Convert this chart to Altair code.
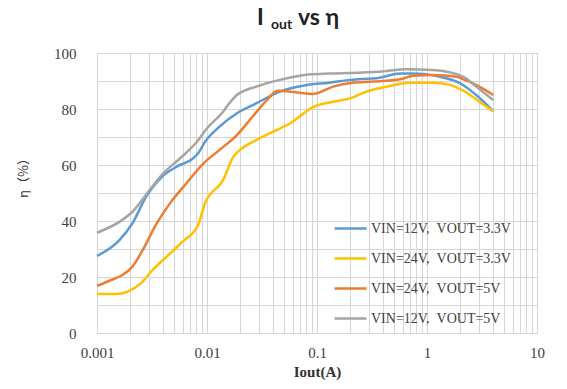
import altair as alt
import pandas as pd

series_names = ["VIN=12V,\u2002VOUT=3.3V", "VIN=24V,\u2002VOUT=3.3V", "VIN=24V,\u2002VOUT=5V", "VIN=12V,\u2002VOUT=5V"]
series_colors = ["#5B9BD5", "#FFC000", "#ED7D31", "#A5A5A5"]

blue_i = [0.001, 0.0016, 0.0021, 0.0028, 0.0039, 0.0053, 0.0075, 0.0083, 0.0096, 0.013, 0.0187, 0.028,
          0.046, 0.081, 0.13, 0.2, 0.37, 0.57, 0.75, 1.31, 2.0, 2.8, 4.0]
blue_eta = [27.5, 33.2, 39.2, 48.7, 55.8, 59.4, 62.4, 64.2, 68.3, 73.7, 78.5, 82.0,
            86.2, 88.6, 89.4, 90.4, 91.2, 92.7, 92.7, 91.5, 89.2, 85.0, 79.2]

yellow_i = [0.001, 0.0015, 0.0019, 0.0025, 0.0032, 0.0043, 0.006, 0.0083, 0.0096, 0.014, 0.0174, 0.02,
            0.028, 0.04, 0.057, 0.093, 0.14, 0.2, 0.28, 0.43, 0.7, 1.14, 1.6, 2.3, 3.0, 4.0]
yellow_eta = [13.9, 13.9, 14.8, 17.7, 22.5, 27.3, 32.6, 38.6, 46.3, 54.6, 63.0, 65.4,
              68.9, 71.9, 74.9, 80.8, 82.6, 83.8, 86.2, 88.0, 89.4, 89.4, 88.6, 85.8, 82.6, 79.2]

orange_i = [0.001, 0.0014, 0.0017, 0.0021, 0.0026, 0.0035, 0.0046, 0.0065, 0.0093, 0.013, 0.0187, 0.026,
            0.035, 0.044, 0.057, 0.093, 0.14, 0.21, 0.32, 0.57, 0.75, 1.14, 1.86, 2.15, 2.8, 4.0]
orange_eta = [16.8, 19.2, 20.7, 23.7, 29.6, 39.2, 46.3, 53.5, 60.6, 65.4, 70.7, 77.3,
              83.2, 86.5, 86.2, 85.4, 88.0, 89.4, 89.8, 90.6, 91.9, 92.1, 91.5, 90.6, 88.6, 85.0]

gray_i = [0.001, 0.0017, 0.0021, 0.003, 0.004, 0.0057, 0.0081, 0.01, 0.014, 0.0155, 0.0187, 0.028,
          0.046, 0.087, 0.13, 0.37, 0.65, 1.13, 2.15, 2.8, 4.0]
gray_eta = [35.8, 40.4, 43.3, 51.0, 57.0, 62.4, 68.3, 73.1, 79.0, 81.4, 85.0, 88.0,
            90.4, 92.4, 92.7, 93.3, 94.2, 93.9, 91.5, 88.0, 83.2]

x_tick_values = [0.001, 0.01, 0.1, 1, 10]
x_tick_labels = ["0.001", "0.01", "0.1", "1", "10"]
y_label_values = [0, 20, 40, 60, 80, 100]

rows = []
for k, (xs, ys) in enumerate([(blue_i, blue_eta), (yellow_i, yellow_eta),
                               (orange_i, orange_eta), (gray_i, gray_eta)]):
    for xv, yv in zip(xs, ys):
        rows.append({"I": xv, "eta": yv, "series": series_names[k], "order": k})
df = pd.DataFrame(rows)

x_grid = []
for e in range(-3, 1):
    for m in range(1, 10):
        x_grid.append(round(m * 10 ** e, 6))
x_grid.append(10)

label_expr = (f"indexof({x_tick_values}, datum.value) >= 0 ? "
              f"{x_tick_labels}[indexof({x_tick_values}, datum.value)] : ''")

serif = "'Liberation Serif', 'Times New Roman', serif"
text_color = "#404040"

lines = alt.Chart(df).mark_line(strokeWidth=2.5, interpolate="monotone").encode(
    x=alt.X("I:Q",
            scale=alt.Scale(type="log", domain=[0.001, 10], nice=False),
            axis=alt.Axis(values=x_grid, labelExpr=label_expr, ticks=False, domain=False,
                          labelOverlap=False, labelFlush=False, labelBound=False,
                          labelFont=serif, labelFontSize=15, labelColor=text_color,
                          labelPadding=12, title="Iout(A)", titleFont=serif,
                          titleFontSize=15, titleFontWeight="bold", titleColor="#333333",
                          titlePadding=4, gridColor="#d6d6d6", gridWidth=1)),
    y=alt.Y("eta:Q",
            scale=alt.Scale(domain=[0, 100], nice=False),
            axis=alt.Axis(values=list(range(0, 101, 10)),
                          labelExpr=f"indexof({y_label_values}, datum.value) >= 0 ? datum.label : ''",
                          ticks=False, domain=False, labelFont=serif, labelFontSize=15,
                          labelColor=text_color, labelPadding=21, title=None,
                          gridColor="#d6d6d6", gridWidth=1)),
    color=alt.Color("series:N",
                    scale=alt.Scale(domain=series_names, range=series_colors),
                    legend=alt.Legend(orient="none", legendX=236, legendY=158, title=None,
                                      symbolType="stroke", symbolSize=1024,
                                      symbolStrokeWidth=2.5, labelFont=serif,
                                      labelFontSize=14, labelColor=text_color,
                                      labelOffset=3, rowPadding=5)),
    order=alt.Order("order:Q"),
    detail="series:N",
)

ytitle = alt.Chart(pd.DataFrame({"t": ["η（%）"]})).mark_text(
    font="Noto Sans CJK SC", fontSize=13, angle=270, align="center", baseline="middle",
    color="#333333").encode(x=alt.value(-73), y=alt.value(122), text="t:N")

title_font = "Lato"
t1 = alt.Chart(pd.DataFrame({"t": ["I"]})).mark_text(
    font=title_font, fontSize=23, fontWeight="bold", align="left", baseline="alphabetic",
    color="#222222").encode(x=alt.value(160), y=alt.value(-28), text="t:N")
t2 = alt.Chart(pd.DataFrame({"t": ["out"]})).mark_text(
    font=title_font, fontSize=14, fontWeight="bold", align="left", baseline="alphabetic",
    color="#222222").encode(x=alt.value(174), y=alt.value(-24), text="t:N")
t3 = alt.Chart(pd.DataFrame({"t": ["vs η"]})).mark_text(
    font=title_font, fontSize=23, fontWeight="bold", align="left", baseline="alphabetic",
    color="#222222").encode(x=alt.value(201), y=alt.value(-28), text="t:N")

chart = alt.layer(lines, ytitle, t1, t2, t3).properties(
    width=440, height=280,
    autosize=alt.AutoSizeParams(type="none"),
    padding={"left": 89, "top": 45, "right": 22, "bottom": 48},
).configure_view(stroke="#c8c8c8", strokeWidth=1)

chart.save("out.html", embed_options={"renderer": "svg", "actions": False})
